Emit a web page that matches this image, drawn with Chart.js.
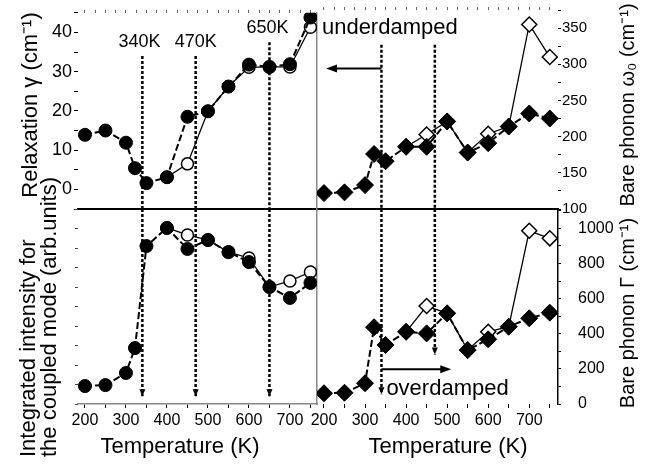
<!DOCTYPE html>
<html>
<head>
<meta charset="utf-8">
<script src="https://cdn.jsdelivr.net/npm/chart.js@4.4.1/dist/chart.umd.min.js"></script>
<style>
  body { margin: 0; background: #fff; }
  #wrap { position: relative; width: 647px; height: 464px; }
  #wrap canvas { position: absolute; left: 0; top: 0; }
</style>
</head>
<body>
<div id="wrap">
  <canvas id="tl" width="647" height="464"></canvas>
  <canvas id="tr" width="647" height="464"></canvas>
  <canvas id="bl" width="647" height="464"></canvas>
  <canvas id="br" width="647" height="464"></canvas>
</div>
<script>
// temperatures (K)
var temps = [200, 250, 300, 322, 350, 400, 450, 500, 550, 600, 650, 700, 750];

// relaxation gamma (cm-1), top left
var relaxFilled = [13.9, 15.0, 11.9, 5.4, 1.6, 3.1, 18.5, 19.9, 26.2, 31.8, 31.2, 31.9, 43.8];
var relaxOpen   = [null, null, null, null, null, 3.1, 6.5, 19.9, 26.2, 31.1, 31.2, 31.2, 41.3];

// bare phonon omega0 (cm-1), top right
var omegaFilled = [122, 123, 133, 176, 166, 186, 186, 221, 178, 191, 214, 232, 225];
var omegaOpen   = [null, null, null, null, null, 186, 203, 221, 178, 204, 214, 355, 310];

// integrated intensity (arb. units), bottom left
var intensFilled = [9.2, 9.7, 15.9, 28.7, 81.0, 90.3, 79.5, 84.1, 77.9, 72.8, 60.0, 54.4, 62.1];
var intensOpen   = [null, null, null, null, null, 90.3, 86.7, 84.1, 77.9, 74.9, 60.0, 63.1, 67.7];

// bare phonon Gamma (cm-1), bottom right
var gammaFilled = [61, 64, 118, 437, 336, 411, 402, 516, 307, 368, 440, 488, 520];
var gammaOpen   = [null, null, null, null, null, 411, 558, 516, 307, 411, 440, 986, 943];

// transition temperatures
var leftMarks = [340, 470, 650];
var leftMarkLabels = ['340K', '470K', '650K'];
var rightMarks = [340, 470];

// tick marks (labels shown on the major ones only)
var tempTicks  = [200, 250, 300, 350, 400, 450, 500, 550, 600, 650, 700, 750];
var relaxTicks = [-5, 0, 5, 10, 15, 20, 25, 30, 35, 40, 45];
var omegaTicks = [100, 125, 150, 175, 200, 225, 250, 275, 300, 325, 350, 375];
var gammaTicks = [0, 100, 200, 300, 400, 500, 600, 700, 800, 900, 1000, 1100];
var intensTicks = [0, 10, 20, 30, 40, 50, 60, 70, 80, 90, 100];

Chart.defaults.font.family = "'Liberation Sans', Arial, sans-serif";
Chart.defaults.color = '#000';

// force an axis box to a fixed size so the four plot areas line up
function fixed(size) {
  return function (s) {
    if (s.isHorizontal()) s.height = size; else s.width = size;
  };
}
function tickSet(values) {
  return function (s) {
    s.ticks = values.map(function (v) { return { value: v }; });
  };
}
function every(step) {
  return function (v) { return v % step === 0 ? String(v) : ''; };
}
function pts(ys) {
  return temps.map(function (t, i) { return { x: t, y: ys[i] }; });
}
function filledSet(ys, style, r) {
  return {
    data: pts(ys), xAxisID: 'x', yAxisID: 'y', order: 0,
    borderColor: '#000', backgroundColor: '#000', borderWidth: 2, borderDash: [7, 3],
    pointStyle: style, pointRadius: r, pointBorderWidth: 1,
    pointBackgroundColor: '#000', pointBorderColor: '#000'
  };
}
function openSet(ys, style, r) {
  return {
    data: pts(ys), xAxisID: 'x', yAxisID: 'y', order: 1,
    borderColor: '#000', backgroundColor: '#fff', borderWidth: 1.3,
    pointStyle: style, pointRadius: r, pointBorderWidth: 1.5,
    pointBackgroundColor: '#fff', pointBorderColor: '#000'
  };
}

var overlay = {
  id: 'overlay',
  beforeDatasetsDraw: function (chart, args, o) {
    var ctx = chart.ctx, xs = chart.scales.x, ys = chart.scales.y;
    ctx.save();
    ctx.strokeStyle = '#000';
    ctx.fillStyle = '#000';
    (o.vlines || []).forEach(function (l) {
      var px = xs.getPixelForValue(l.t);
      var y1 = ys.getPixelForValue(l.from), y2 = ys.getPixelForValue(l.to);
      ctx.lineWidth = 2.5;
      ctx.setLineDash([3, 2]);
      ctx.beginPath(); ctx.moveTo(px, y1); ctx.lineTo(px, y2); ctx.stroke();
      ctx.setLineDash([]);
      if (l.head) {
        ctx.beginPath();
        ctx.moveTo(px - 3, y2 - 7); ctx.lineTo(px + 3, y2 - 7); ctx.lineTo(px, y2);
        ctx.closePath(); ctx.fill();
      }
    });
    (o.arrows || []).forEach(function (a) {
      var x1 = xs.getPixelForValue(a.from), x2 = xs.getPixelForValue(a.to), py = ys.getPixelForValue(a.v);
      var d = x2 > x1 ? 1 : -1;
      ctx.lineWidth = 2;
      ctx.beginPath(); ctx.moveTo(x1, py); ctx.lineTo(x2 - d * 8, py); ctx.stroke();
      ctx.beginPath();
      ctx.moveTo(x2, py); ctx.lineTo(x2 - d * 11, py - 4); ctx.lineTo(x2 - d * 11, py + 4);
      ctx.closePath(); ctx.fill();
    });
    (o.notes || []).forEach(function (n) {
      ctx.font = n.size + "px 'Liberation Sans', Arial, sans-serif";
      ctx.textAlign = n.align || 'center';
      ctx.textBaseline = 'middle';
      ctx.fillText(n.text, xs.getPixelForValue(n.t), ys.getPixelForValue(n.v));
    });
    ctx.restore();
  },
  afterDraw: function (chart, args, o) {
    var ctx = chart.ctx;
    (o.titles || []).forEach(function (t) {
      ctx.save();
      ctx.font = t.size + "px 'Liberation Sans', Arial, sans-serif";
      ctx.fillStyle = '#000';
      ctx.textAlign = t.align || 'center';
      ctx.textBaseline = 'middle';
      ctx.translate(t.x, t.y);
      if (t.rot) ctx.rotate(-Math.PI / 2);
      ctx.fillText(t.text, 0, 0);
      ctx.restore();
    });
  }
};

function panel(id, pad, scales, datasets, extra) {
  return new Chart(document.getElementById(id), {
    type: 'line',
    data: { datasets: datasets },
    options: {
      responsive: false,
      animation: false,
      events: [],
      layout: { padding: pad },
      plugins: { legend: { display: false }, tooltip: { enabled: false }, overlay: extra },
      scales: scales
    },
    plugins: [overlay]
  });
}

var edge = {
  type: 'linear', position: 'right', afterFit: fixed(0),
  ticks: { display: false }, grid: { display: false },
  border: { display: true, color: '#888', width: 1.5 }
};
function topTicks(min, max) {
  return {
    type: 'linear', position: 'top', min: min, max: max, afterFit: fixed(0),
    afterBuildTicks: tickSet(tempTicks.concat([225, 275, 325, 375, 425, 475, 525, 575, 625, 675, 725])),
    ticks: { display: false, autoSkip: false },
    grid: { drawOnChartArea: false, tickLength: 3, color: '#666' },
    border: { display: false }
  };
}
function splitLine(min, max) {
  return {
    type: 'linear', position: 'bottom', min: min, max: max, afterFit: fixed(0),
    ticks: { display: false }, grid: { display: false },
    border: { display: true, color: '#000', width: 2 }
  };
}
function tempAxis(min, max, border) {
  return {
    type: 'linear', position: 'bottom', min: min, max: max, afterFit: fixed(40),
    afterBuildTicks: tickSet(tempTicks),
    ticks: { autoSkip: false, callback: every(100), font: { size: 16 }, padding: 3, maxRotation: 0 },
    grid: { drawOnChartArea: false, tickLength: 4, color: '#000' },
    border: border
  };
}

// top left: relaxation
panel('tl', { left: 0, top: 10, right: 330, bottom: 255 }, {
  x: splitLine(183, 766),
  xTop: topTicks(183, 766),
  y: {
    type: 'linear', position: 'left', min: -5, max: 45, afterFit: fixed(78),
    afterBuildTicks: tickSet(relaxTicks),
    ticks: { autoSkip: false, callback: every(10), font: { size: 18 }, padding: 2 },
    grid: { drawOnChartArea: false, tickLength: 4, color: '#000' },
    border: { display: false }
  },
  yEdge: edge
}, [filledSet(relaxFilled, 'circle', 6.5), openSet(relaxOpen, 'circle', 6)], {
  vlines: leftMarks.map(function (t, i) { return { t: t, from: i === 2 ? 37.5 : 34, to: -5 }; }),
  notes: leftMarks.map(function (t, i) {
    return { text: leftMarkLabels[i], t: i === 0 ? 333 : (i === 2 ? 645 : 470), v: i === 2 ? 41 : 37.5, size: 18 };
  })
});

// top right: bare phonon omega0
panel('tr', { left: 317, top: 10, right: 0, bottom: 255 }, {
  x: splitLine(183, 770),
  xTop: topTicks(183, 770),
  y: {
    type: 'linear', position: 'right', min: 100, max: 375, afterFit: fixed(89),
    afterBuildTicks: tickSet(omegaTicks),
    ticks: { autoSkip: false, callback: every(50), font: { size: 15 }, padding: 1 },
    grid: { drawOnChartArea: false, tickLength: 3, color: '#000' },
    border: { display: false }
  }
}, [filledSet(omegaFilled, 'rectRot', 8.5), openSet(omegaOpen, 'rectRot', 7.5)], {
  vlines: rightMarks.map(function (t) { return { t: t, from: 327, to: 100 }; }),
  arrows: [{ from: 340, to: 205, v: 294 }],
  notes: [{ text: 'underdamped', t: 195, v: 350, size: 22, align: 'left' }]
});

// bottom left: integrated intensity
panel('bl', { left: 78, top: 209, right: 330, bottom: 20 }, {
  x: tempAxis(183, 766, { display: true, color: '#888', width: 1.5 }),
  y: {
    type: 'linear', position: 'left', min: 0, max: 100, afterFit: fixed(0),
    afterBuildTicks: tickSet(intensTicks),
    ticks: { display: false, autoSkip: false },
    grid: { drawOnChartArea: false, tickLength: 3, color: '#444' },
    border: { display: false }
  },
  yEdge: edge
}, [filledSet(intensFilled, 'circle', 6.5), openSet(intensOpen, 'circle', 6)], {
  vlines: leftMarks.map(function (t) { return { t: t, from: 100, to: 4, head: true }; }),
  titles: [
    { text: 'Relaxation \u03b3 (cm\u207b\u00b9)', x: 31, y: 105, rot: true, size: 22 },
    { text: 'Integrated intensity for', x: 29, y: 457, rot: true, align: 'left', size: 22 },
    { text: 'the coupled mode (arb.units)', x: 50, y: 457, rot: true, align: 'left', size: 22 },
    { text: 'Bare phonon \u03c9\u2080 (cm\u207b\u00b9)', x: 628, y: 105, rot: true, size: 20 },
    { text: 'Bare phonon \u0393 (cm\u207b\u00b9)', x: 628, y: 313, rot: true, size: 20 },
    { text: 'Temperature (K)', x: 180, y: 447, size: 22 },
    { text: 'Temperature (K)', x: 448, y: 447, size: 22 }
  ]
});

// bottom right: bare phonon Gamma
panel('br', { left: 317, top: 209, right: 0, bottom: 20 }, {
  x: tempAxis(183, 770, { display: false }),
  y: {
    type: 'linear', position: 'right', min: 0, max: 1110, afterFit: fixed(89),
    afterBuildTicks: tickSet(gammaTicks),
    ticks: { autoSkip: false, callback: every(200), font: { size: 16 }, padding: 17 },
    grid: { drawOnChartArea: false, tickLength: 3, color: '#000' },
    border: { display: true, color: '#000', width: 1.5 }
  }
}, [filledSet(gammaFilled, 'rectRot', 8.5), openSet(gammaOpen, 'rectRot', 7.5)], {
  vlines: [{ t: rightMarks[0], from: 1110, to: 56, head: true }, { t: rightMarks[1], from: 1110, to: 282, head: true }],
  arrows: [{ from: 340, to: 510, v: 198 }],
  notes: [{ text: 'overdamped', t: 352, v: 85, size: 22, align: 'left' }]
});
</script>
</body>
</html>
